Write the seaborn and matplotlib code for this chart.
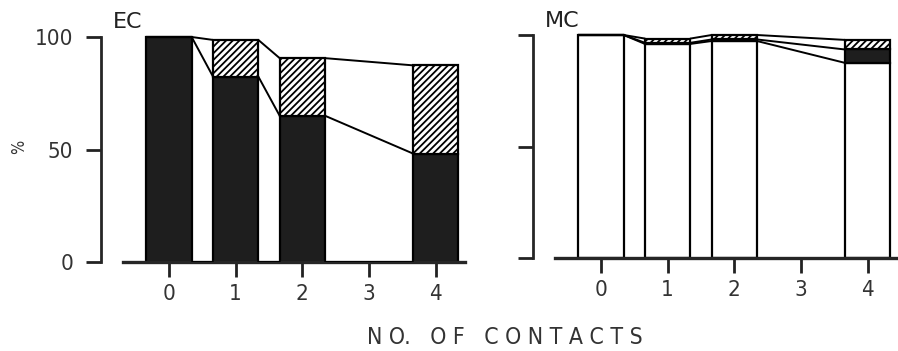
import numpy as np
import matplotlib
matplotlib.use("Agg")
import matplotlib.pyplot as plt
import seaborn as sns

# data (percent of cells per number of contacts)
contacts = [0, 1, 2, 4]
ec_white = [0, 0, 0, 0]
ec_black = [100, 82.4, 65.0, 48.2]
ec_hatch = [0, 16.3, 25.6, 39.2]
mc_white = [100, 96.0, 97.3, 87.5]
mc_black = [0, 0.5, 0.7, 6.0]
mc_hatch = [0, 1.9, 2.0, 4.3]
xticks = [0, 1, 2, 3, 4]
yticks = [0, 50, 100]

sns.set_style("ticks")
plt.rcParams['font.family'] = ['DejaVu Sans']
plt.rcParams['font.stretch'] = 'condensed'
plt.rcParams['hatch.linewidth'] = 1.3

W, H = 898, 351
fig = plt.figure(figsize=(W / 100, H / 100), dpi=100)
bw = 0.68
txt = "#333333"


def panel(rect, white, black, hatch, title, show_labels):
    ax = fig.add_axes(rect)
    white = np.array(white, dtype=float)
    black = np.array(black, dtype=float)
    hatch = np.array(hatch, dtype=float)
    common = dict(x=contacts, native_scale=True, width=bw, errorbar=None,
                  saturation=1, edgecolor="black", linewidth=1.6, ax=ax)
    sns.barplot(y=white, bottom=np.zeros(4), color="white", **common)
    sns.barplot(y=black, bottom=white, color="#1e1e1e", **common)
    sns.barplot(y=hatch, bottom=white + black, color="white", hatch="/////", **common)

    # connecting lines between neighbouring bars
    levels = [white, white + black, white + black + hatch]
    for lev in levels:
        for i in range(len(contacts) - 1):
            ax.plot([contacts[i] + bw / 2, contacts[i + 1] - bw / 2],
                    [lev[i], lev[i + 1]], color="black", lw=1.4, zorder=3)

    # spines first: moving a spine resets the ticks
    sns.despine(ax=ax)
    ax.spines['left'].set_position(('outward', 16))
    ax.spines['left'].set_bounds(0, 100)
    ax.spines['left'].set_linewidth(2)
    ax.spines['bottom'].set_linewidth(2.4)

    ax.set_xlim(-0.69, 4.44)
    ax.set_ylim(0, 103)
    ax.set_xticks(xticks)
    ax.set_xticklabels([str(t) for t in xticks], fontsize=16, color=txt)
    ax.set_yticks(yticks)
    if show_labels:
        ax.set_yticklabels([str(t) for t in yticks], fontsize=16, color=txt)
    else:
        ax.set_yticklabels([])
    ax.set_xlabel("")
    ax.set_ylabel("")
    ax.tick_params(axis="x", length=11, width=2, pad=5, color="#222222")
    ax.tick_params(axis="y", length=11, width=2, pad=9, color="#222222")
    ax.text(-0.69 - 0.15, 102.0, title, fontsize=16, ha="left", va="bottom",
            color="#222222", fontstretch="normal")
    return ax


# EC panel: x axis 123..465 px, y 0 at 262 px, 100 at 37 px
panel([123 / W, 1 - 262 / H, 342 / W, 225 * 1.03 / H],
      ec_white, ec_black, ec_hatch, "EC", True)
# MC panel: x axis 555..897 px, y 0 at 258 px, 100 at 35 px
panel([555 / W, 1 - 258 / H, 342 / W, 223 * 1.03 / H],
      mc_white, mc_black, mc_hatch, "MC", False)

fig.text(19 / W, 1 - 147 / H, "%", rotation=90, ha="center", va="center",
         fontsize=12, color=txt)
fig.text(505 / W, 1 - 338 / H, "N O.   O F   C O N T A C T S", ha="center",
         va="center", fontsize=16.5, color=txt)

fig.savefig("out.png", dpi=100)
